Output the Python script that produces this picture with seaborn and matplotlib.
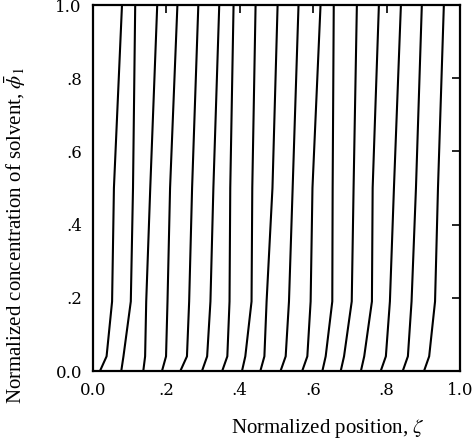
import matplotlib
matplotlib.use("Agg")
import matplotlib.pyplot as plt
import seaborn as sns
import pandas as pd
import numpy as np

# Normalized concentration levels at which each profile position was read
phi_levels = [0.0, 0.04, 0.19, 0.5, 1.0]

# Normalized position of each profile at the phi levels above (17 profiles)
profile_zeta = [
    [0.019, 0.037, 0.052, 0.057, 0.079],
    [0.077, 0.083, 0.103, 0.109, 0.115],
    [0.137, 0.142, 0.145, 0.156, 0.175],
    [0.188, 0.199, 0.203, 0.210, 0.230],
    [0.238, 0.256, 0.262, 0.270, 0.287],
    [0.297, 0.311, 0.320, 0.328, 0.344],
    [0.352, 0.366, 0.372, 0.374, 0.383],
    [0.406, 0.415, 0.432, 0.434, 0.443],
    [0.456, 0.467, 0.473, 0.489, 0.503],
    [0.511, 0.525, 0.534, 0.544, 0.560],
    [0.570, 0.584, 0.593, 0.598, 0.620],
    [0.625, 0.634, 0.652, 0.653, 0.656],
    [0.675, 0.684, 0.705, 0.710, 0.719],
    [0.730, 0.739, 0.760, 0.762, 0.779],
    [0.784, 0.798, 0.809, 0.820, 0.839],
    [0.844, 0.858, 0.868, 0.880, 0.896],
    [0.902, 0.916, 0.932, 0.940, 0.956],
]

tick_values = [0.0, 0.2, 0.4, 0.6, 0.8, 1.0]
tick_labels = ["0.0", ".2", ".4", ".6", ".8", "1.0"]

rows = []
for i, zs in enumerate(profile_zeta):
    for k, (z, p) in enumerate(zip(zs, phi_levels)):
        rows.append({"profile": i, "order": k, "zeta": z, "phi": p})
df = pd.DataFrame(rows)

sns.set_theme(style="white")
plt.rcParams["font.family"] = ["DejaVu Serif"]
plt.rcParams["mathtext.fontset"] = "stix"

fig = plt.figure(figsize=(4.76, 4.45), dpi=100)
ax = fig.add_axes([93 / 476, 74 / 445, 367 / 476, 366 / 445])

sns.lineplot(data=df, x="zeta", y="phi", units="profile", estimator=None,
             sort=False, color="black", linewidth=1.5, ax=ax, legend=False)

ax.set_xlim(0, 1)
ax.set_ylim(0, 1)
ax.set_xticks(tick_values)
ax.set_xticklabels(tick_labels)
ax.set_yticks(tick_values)
ax.set_yticklabels(tick_labels)
ax.tick_params(direction="in", length=6, width=1.2, top=True, right=True,
               labelsize=12, pad=8, colors="black")
for s in ax.spines.values():
    s.set_visible(True)
    s.set_color("black")
    s.set_linewidth(1.6)

ax.set_xlabel(r"Normalized position, $\zeta$", fontfamily="Liberation Serif",
              fontsize=15, color="black")
ax.set_ylabel(r"Normalized concentration of solvent, $\bar{\phi}_1$",
              fontfamily="Liberation Serif", fontsize=15, color="black")
ax.xaxis.set_label_coords((328 - 93) / 367, -0.125)
ax.yaxis.set_label_coords(-0.178, 0.37)

fig.savefig("out.png", dpi=100, facecolor="white")
